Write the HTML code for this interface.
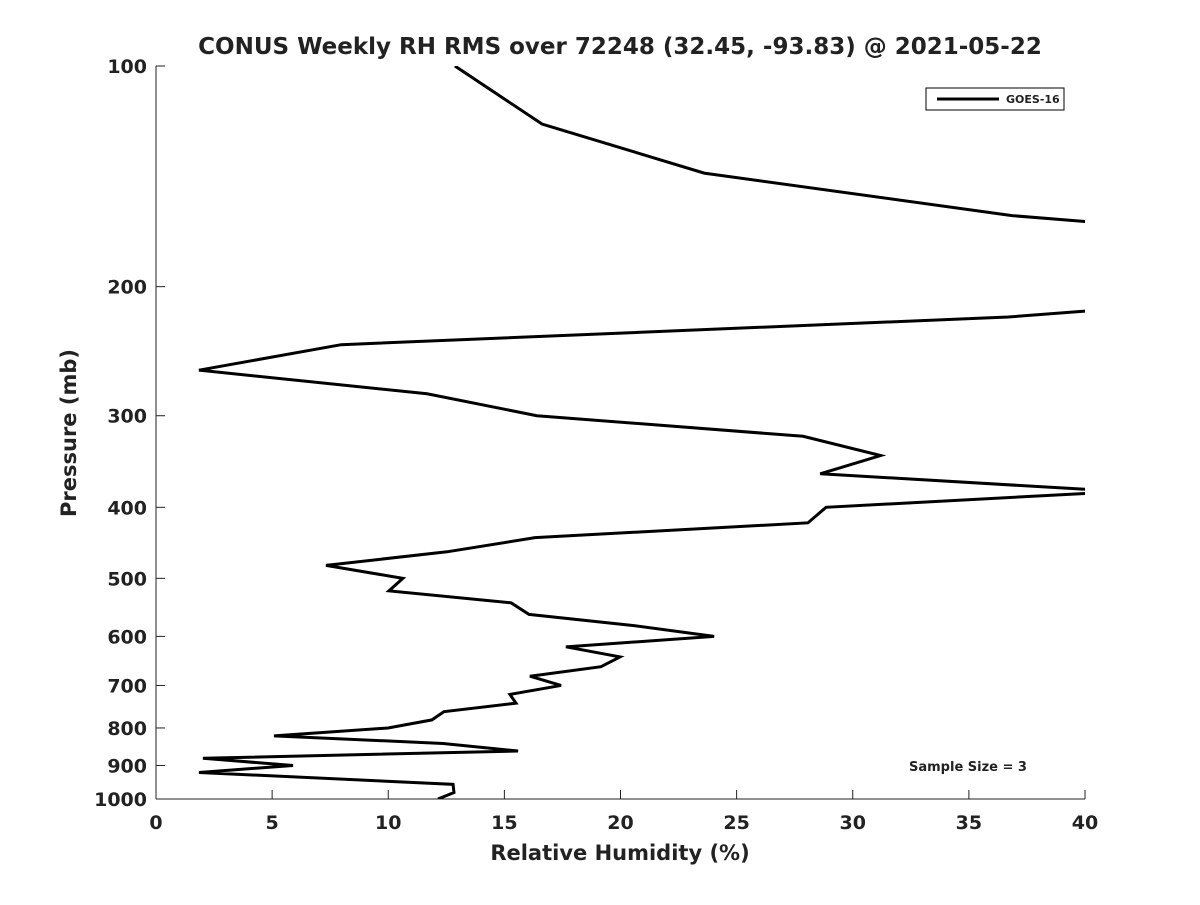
<!DOCTYPE html>
<html><head><meta charset="utf-8"><style>
body{margin:0;background:#fff;}
svg text{font-family:"DejaVu Sans","Liberation Sans",sans-serif;font-weight:bold;fill:#222;}
</style></head><body>
<svg width="1200" height="900" xmlns="http://www.w3.org/2000/svg">
<defs><clipPath id="pa"><rect x="156" y="66" width="929" height="733"/></clipPath></defs>
<text x="620" y="54" text-anchor="middle" font-size="23">CONUS Weekly RH RMS over 72248 (32.45, -93.83) @ 2021-05-22</text>
<g id="axes"></g>
<polyline id="line" fill="none" stroke="#000" stroke-width="3" clip-path="url(#pa)"/>
<g>
<rect x="926" y="88" width="138" height="22" fill="#fff" stroke="#000" stroke-width="1"/>
<line x1="937" y1="99" x2="999" y2="99" stroke="#000" stroke-width="3"/>
<text x="1006" y="103" font-size="11">GOES-16</text>
</g>
<text x="968" y="771" text-anchor="middle" font-size="13">Sample Size = 3</text>
<text x="620" y="860" text-anchor="middle" font-size="21">Relative Humidity (%)</text>
<text transform="translate(76,433) rotate(-90)" text-anchor="middle" font-size="21">Pressure (mb)</text>
</svg>
<script>
const rhValues=[12.87,16.62,23.6,36.86,40,50,50,40,36.7,7.97,1.85,11.67,16.4,27.86,31.2,28.6,40,45,40,28.85,28.07,16.32,12.53,7.32,10.63,10.03,15.29,16.06,20.58,24.03,17.65,19.98,19.16,16.1,17.44,15.24,15.5,12.4,11.88,9.99,5.08,12.36,15.59,2.02,5.9,1.85,12.79,12.83,12.14];
const pressures=[100,120,140,160,163,185,205,216,220,240,260,280,300,320,340,360,378,380,383,400,420,440,460,480,500,520,540,560,580,600,620,640,660,680,700,720,740,760,780,800,820,840,860,880,900,920,955,980,1000];
const xTicks=[0,5,10,15,20,25,30,35,40];
const yTicks=[100,200,300,400,500,600,700,800,900,1000];
const X=v=>156+v/40*929;
const Y=p=>66+Math.log10(p/100)*733;
const NS="http://www.w3.org/2000/svg";
const ax=document.getElementById('axes');
function mk(t,a){const e=document.createElementNS(NS,t);for(const k in a)e.setAttribute(k,a[k]);ax.appendChild(e);return e;}
let e=mk('line',{x1:156,y1:66,x2:156,y2:799,stroke:'#222','stroke-width':1});


e=mk('line',{x1:156,y1:799,x2:1085,y2:799,stroke:'#222','stroke-width':1});


xTicks.forEach(v=>{
 mk('line',{x1:X(v),y1:799,x2:X(v),y2:790,stroke:'#222'});
 const t=mk('text',{x:X(v),y:829,'text-anchor':'middle','font-size':19});t.textContent=v;
 
 
});
yTicks.forEach(p=>{
 mk('line',{x1:156,y1:Y(p),x2:165,y2:Y(p),stroke:'#222'});
 const t=mk('text',{x:147,y:Y(p)+7,'text-anchor':'end','font-size':19});t.textContent=p;
 
 
});
document.getElementById('line').setAttribute('points',rhValues.map((v,i)=>X(v)+','+Y(pressures[i])).join(' '));
</script>
</body></html>
